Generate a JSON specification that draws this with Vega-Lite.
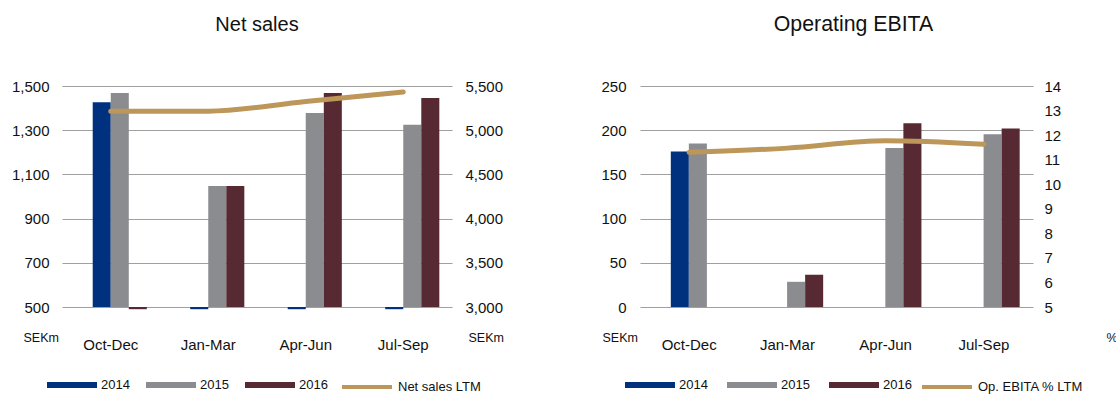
{
  "$schema": "https://vega.github.io/schema/vega-lite/v6.json",
  "padding": {"left": 11, "top": 13, "right": 0, "bottom": 0},
  "spacing": 96,
  "config": {
    "font": "Liberation Sans",
    "view": {"stroke": null},
    "axis": {"labelFont": "Liberation Sans", "labelFontSize": 15, "labelColor": "#111", "domain": false, "ticks": false, "gridColor": "#a0a0a0", "gridWidth": 1.2, "titleFont": "Liberation Sans", "titleFontWeight": "normal", "titleFontSize": 12.5, "titleColor": "#111"},
    "legend": {"labelFont": "Liberation Sans", "labelFontSize": 13, "labelColor": "#111", "padding": 0},
    "title": {"font": "Liberation Sans", "fontSize": 20, "fontWeight": "normal", "color": "#111"}
  },
  "datasets": {
    "sales": [
      {"quarter": "Oct-Dec", "year": "2014", "value": 1426},
      {"quarter": "Oct-Dec", "year": "2015", "value": 1468},
      {"quarter": "Oct-Dec", "year": "2016", "value": 490},
      {"quarter": "Jan-Mar", "year": "2014", "value": 490},
      {"quarter": "Jan-Mar", "year": "2015", "value": 1047},
      {"quarter": "Jan-Mar", "year": "2016", "value": 1048},
      {"quarter": "Apr-Jun", "year": "2014", "value": 490},
      {"quarter": "Apr-Jun", "year": "2015", "value": 1378},
      {"quarter": "Apr-Jun", "year": "2016", "value": 1468},
      {"quarter": "Jul-Sep", "year": "2014", "value": 490},
      {"quarter": "Jul-Sep", "year": "2015", "value": 1325},
      {"quarter": "Jul-Sep", "year": "2016", "value": 1446}
    ],
    "salesLTM": [
      {"quarter": "Oct-Dec", "ltm": 5215},
      {"quarter": "Jan-Mar", "ltm": 5215},
      {"quarter": "Apr-Jun", "ltm": 5325},
      {"quarter": "Jul-Sep", "ltm": 5432}
    ],
    "ebita": [
      {"quarter": "Oct-Dec", "year": "2014", "value": 176},
      {"quarter": "Oct-Dec", "year": "2015", "value": 185},
      {"quarter": "Jan-Mar", "year": "2015", "value": 28.5},
      {"quarter": "Jan-Mar", "year": "2016", "value": 36.5},
      {"quarter": "Apr-Jun", "year": "2015", "value": 180},
      {"quarter": "Apr-Jun", "year": "2016", "value": 208},
      {"quarter": "Jul-Sep", "year": "2015", "value": 195.5},
      {"quarter": "Jul-Sep", "year": "2016", "value": 202}
    ],
    "ebitaLTM": [
      {"quarter": "Oct-Dec", "pct": 11.3},
      {"quarter": "Jan-Mar", "pct": 11.47},
      {"quarter": "Apr-Jun", "pct": 11.77},
      {"quarter": "Jul-Sep", "pct": 11.63}
    ]
  },
  "resolve": {"scale": {"fill": "independent", "stroke": "independent"}, "legend": {"fill": "independent", "stroke": "independent"}},
  "hconcat": [
    {
      "width": 390,
      "height": 221,
      "title": {"text": "Net sales", "anchor": "middle", "frame": "group", "offset": 44},
      "layer": [
        {
          "data": {"name": "sales"},
          "mark": {"type": "bar"},
          "encoding": {
            "x": {"field": "quarter", "type": "nominal", "title": null,
                  "scale": {"domain": ["Oct-Dec", "Jan-Mar", "Apr-Jun", "Jul-Sep"], "paddingInner": 0.26, "paddingOuter": 0.13},
                  "axis": {"labelAngle": 0, "labelPadding": 30, "grid": false}},
            "xOffset": {"field": "year", "type": "nominal", "scale": {"domain": ["pad", "2014", "2015", "2016"], "paddingInner": 0, "paddingOuter": 0}},
            "y": {"field": "value", "type": "quantitative",
                  "scale": {"domain": [500, 1500], "zero": false, "nice": false},
                  "axis": {"values": [500, 700, 900, 1100, 1300, 1500], "format": ",.0f", "grid": true, "labelPadding": 13,
                           "title": "SEKm", "titleAngle": 0, "titleAlign": "left", "titleBaseline": "middle", "titleX": -39, "titleY": 251}},
            "y2": {"datum": 500},
            "fill": {"field": "year", "type": "nominal",
                     "scale": {"domain": ["2014", "2015", "2016"], "range": ["#00317f", "#8b8c90", "#572a33"]},
                     "legend": {"title": null, "orient": "none", "direction": "horizontal", "legendX": -15, "legendY": 274,
                                "symbolType": "M-1,-0.12H1V0.12H-1Z", "symbolSize": 2500, "symbolStrokeWidth": 0, "labelOffset": 4, "columnPadding": 16}}
          }
        },
        {
          "data": {"name": "salesLTM"},
          "mark": {"type": "line", "strokeWidth": 5, "strokeCap": "round", "interpolate": "monotone"},
          "encoding": {
            "x": {"field": "quarter", "type": "nominal", "scale": {"domain": ["Oct-Dec", "Jan-Mar", "Apr-Jun", "Jul-Sep"], "paddingInner": 0.26, "paddingOuter": 0.13}},
            "y": {"field": "ltm", "type": "quantitative",
                  "scale": {"domain": [3000, 5500], "zero": false, "nice": false},
                  "axis": {"orient": "right", "values": [3000, 3500, 4000, 4500, 5000, 5500], "format": ",.0f", "grid": false, "labelPadding": 13,
                           "title": "SEKm", "titleAngle": 0, "titleAlign": "left", "titleBaseline": "middle", "titleX": 16, "titleY": 251}},
            "stroke": {"datum": "Net sales LTM", "type": "nominal",
                       "scale": {"domain": ["Net sales LTM"], "range": ["#bd9659"]},
                       "legend": {"title": null, "orient": "none", "legendX": 278, "legendY": 274,
                                  "symbolType": "stroke", "symbolSize": 2500, "symbolStrokeWidth": 4, "labelOffset": 4}}
          }
        }
      ],
      "resolve": {"scale": {"y": "independent"}}
    },
    {
      "width": 393,
      "height": 221,
      "title": {"text": "Operating EBITA", "anchor": "middle", "frame": "group", "offset": 44, "dx": 17, "fontSize": 21.3},
      "layer": [
        {
          "data": {"name": "ebita"},
          "mark": {"type": "bar"},
          "encoding": {
            "x": {"field": "quarter", "type": "nominal", "title": null,
                  "scale": {"domain": ["Oct-Dec", "Jan-Mar", "Apr-Jun", "Jul-Sep"], "paddingInner": 0.26, "paddingOuter": 0.13},
                  "axis": {"labelAngle": 0, "labelPadding": 30, "grid": false}},
            "xOffset": {"field": "year", "type": "nominal", "scale": {"domain": ["pad", "2014", "2015", "2016"], "paddingInner": 0, "paddingOuter": 0}},
            "y": {"field": "value", "type": "quantitative",
                  "scale": {"domain": [0, 250], "nice": false},
                  "axis": {"values": [0, 50, 100, 150, 200, 250], "grid": true, "labelPadding": 14,
                           "title": "SEKm", "titleAngle": 0, "titleAlign": "left", "titleBaseline": "middle", "titleX": -38, "titleY": 251}},
            "fill": {"field": "year", "type": "nominal",
                     "scale": {"domain": ["2014", "2015", "2016"], "range": ["#00317f", "#8b8c90", "#572a33"]},
                     "legend": {"title": null, "orient": "none", "direction": "horizontal", "legendX": -15, "legendY": 274,
                                "symbolType": "M-1,-0.12H1V0.12H-1Z", "symbolSize": 2500, "symbolStrokeWidth": 0, "labelOffset": 4, "columnPadding": 19}}
          }
        },
        {
          "data": {"name": "ebitaLTM"},
          "mark": {"type": "line", "strokeWidth": 5, "strokeCap": "round", "interpolate": "monotone"},
          "encoding": {
            "x": {"field": "quarter", "type": "nominal", "scale": {"domain": ["Oct-Dec", "Jan-Mar", "Apr-Jun", "Jul-Sep"], "paddingInner": 0.26, "paddingOuter": 0.13}},
            "y": {"field": "pct", "type": "quantitative",
                  "scale": {"domain": [5, 14], "zero": false, "nice": false},
                  "axis": {"orient": "right", "values": [5, 6, 7, 8, 9, 10, 11, 12, 13, 14], "grid": false, "labelPadding": 11,
                           "title": "%", "titleAngle": 0, "titleAlign": "left", "titleBaseline": "middle", "titleX": 73, "titleY": 251}},
            "stroke": {"datum": "Op. EBITA % LTM", "type": "nominal",
                       "scale": {"domain": ["Op. EBITA % LTM"], "range": ["#bd9659"]},
                       "legend": {"title": null, "orient": "none", "legendX": 280, "legendY": 274,
                                  "symbolType": "stroke", "symbolSize": 2500, "symbolStrokeWidth": 4, "labelOffset": 4}}
          }
        }
      ],
      "resolve": {"scale": {"y": "independent"}}
    }
  ]
}
